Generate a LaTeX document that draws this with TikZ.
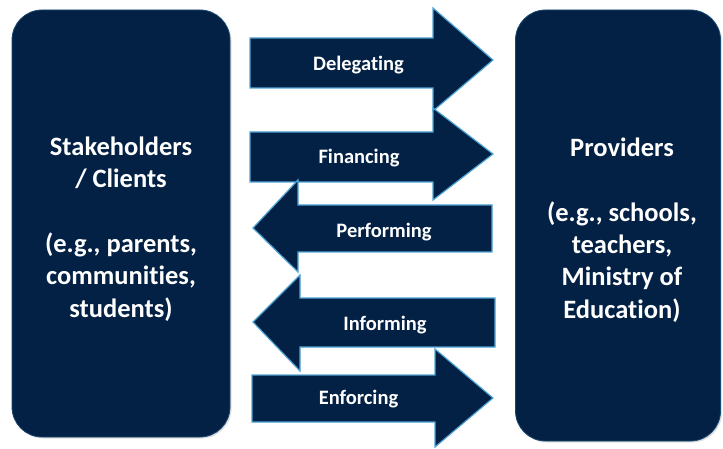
\documentclass[tikz,border=0pt]{standalone}
\usepackage{fontspec}
\setmainfont{Carlito}[Ligatures=NoCommon]
\usetikzlibrary{shadows}
\definecolor{navy}{RGB}{3,33,68}
\definecolor{glow}{RGB}{80,165,215}
\begin{document}
\begin{tikzpicture}[x=1pt,y=-1pt,
  bigbox/.style={fill=navy, rounded corners=30pt, draw=navy!70!glow, line width=0.8pt,
    drop shadow={opacity=0.25, shadow xshift=1.5pt, shadow yshift=-1.5pt}, inner sep=0pt},
  boxtext/.style={text=white, font=\bfseries\fontsize{26.5}{32.3}\selectfont, align=center, inner sep=0pt, anchor=base},
  arrowshape/.style={fill=navy, draw=glow, line width=1.2pt, line join=miter},
  arrowlabel/.style={text=white, font=\bfseries\fontsize{20.5}{24}\selectfont, inner sep=0pt, anchor=base}]
\useasboundingbox (0,0) rectangle (723,449);
\fill[white] (0,0) rectangle (723,449);
% boxes
\node[bigbox, minimum width=218pt, minimum height=427pt] (left) at (121,223.5) {};
\node[bigbox, minimum width=205pt, minimum height=431pt] (right) at (618,225.5) {};
\node[boxtext] (lefttext) at (121,317)
  {Stakeholders\\/ Clients\\[32.3pt](e.g., parents,\\communities,\\students)};
\node[boxtext] (righttext) at (622,318)
  {Providers\\[32.3pt](e.g., schools,\\teachers,\\Ministry of\\Education)};
% arrows
\draw[arrowshape] (250,38) -- (433,38) -- (433,8) -- (493,60) -- (433,111) -- (433,88) -- (250,88) -- cycle;
\draw[arrowshape] (250,132) -- (433,132) -- (433,108) -- (493,154) -- (433,200) -- (433,182) -- (250,182) -- cycle;
\draw[arrowshape] (492,205) -- (298,205) -- (298,180) -- (253,228) -- (298,272) -- (298,252) -- (492,252) -- cycle;
\draw[arrowshape] (495,298) -- (300,298) -- (300,275) -- (253,322) -- (300,371) -- (300,347) -- (495,347) -- cycle;
\draw[arrowshape] (252,375) -- (435,375) -- (435,349) -- (493,398) -- (435,447) -- (435,422) -- (252,422) -- cycle;
\node[arrowlabel] (delegating) at (358.5,71) {Delegating};
\node[arrowlabel] (financing) at (359,164) {Financing};
\node[arrowlabel] (performing) at (384,237) {Performing};
\node[arrowlabel] (informing) at (385,330) {Informing};
\node[arrowlabel] (enforcing) at (358.5,404) {Enforcing};
\end{tikzpicture}
\end{document}
